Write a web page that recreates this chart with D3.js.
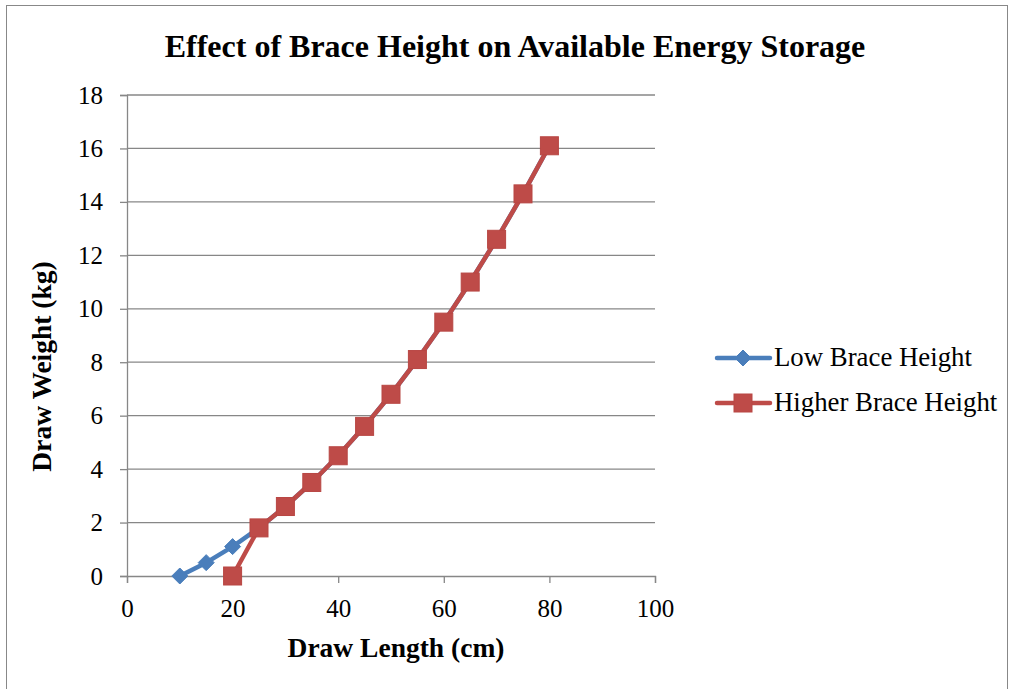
<!DOCTYPE html>
<html><head><meta charset="utf-8">
<script src="https://cdn.jsdelivr.net/npm/d3@7"></script>
<style>body{margin:0;background:#fff}svg{display:block}text{font-family:"Liberation Serif","Times New Roman",serif;fill:#000}</style>
</head><body>
<script>
const title = "Effect of Brace Height on Available Energy Storage";
const xTitle = "Draw Length (cm)";
const yTitle = "Draw Weight (kg)";
const seriesNames = ["Low Brace Height", "Higher Brace Height"];
const lowX = [10, 15, 20, 25, 30, 35, 40, 45, 50, 55, 60, 65, 70, 75, 80];
const lowY = [0, 0.5, 1.1, 1.8, 2.6, 3.5, 4.5, 5.6, 6.8, 8.1, 9.5, 11.0, 12.6, 14.3, 16.1];
const highX = [20, 25, 30, 35, 40, 45, 50, 55, 60, 65, 70, 75, 80];
const highY = [0, 1.8, 2.6, 3.5, 4.5, 5.6, 6.8, 8.1, 9.5, 11.0, 12.6, 14.3, 16.1];
const xTicks = [0, 20, 40, 60, 80, 100];
const yTicks = [0, 2, 4, 6, 8, 10, 12, 14, 16, 18];
const colors = ["#4A7EBB", "#BE4B48"];

const W = 1011, H = 689;
const svg = d3.select("body").append("svg").attr("width", W).attr("height", H);
svg.append("rect").attr("x", 6.5).attr("y", 5.5).attr("width", 1001).attr("height", 700)
  .attr("fill", "#fff").attr("stroke", "#888").attr("stroke-width", 1);

const x = d3.scaleLinear().domain([0, 100]).range([127, 655]);
const y = d3.scaleLinear().domain([0, 18]).range([576, 95]);

// gridlines
svg.append("g").selectAll("line").data(yTicks.filter(d => d > 0)).join("line")
  .attr("x1", x(0)).attr("x2", x(100)).attr("y1", d => y(d)).attr("y2", d => y(d))
  .attr("stroke", "#878787").attr("stroke-width", 1.3);

const yAxis = svg.append("g").attr("transform", `translate(${x(0)},0)`)
  .call(d3.axisLeft(y).tickValues(yTicks).tickSize(7).tickPadding(17).tickFormat(d3.format("d")));
const xAxis = svg.append("g").attr("transform", `translate(0,${y(0)})`)
  .call(d3.axisBottom(x).tickValues(xTicks).tickSize(7).tickPadding(16).tickFormat(d3.format("d")));
[yAxis, xAxis].forEach(a => {
  a.select(".domain").attr("stroke", "#878787").attr("stroke-width", 1.3);
  a.selectAll(".tick line").attr("stroke", "#878787").attr("stroke-width", 1.3);
  a.selectAll("text").attr("font-size", 25).attr("font-family", "Liberation Serif").attr("fill", "#000");
});

const line = d3.line().x(d => x(d[0])).y(d => y(d[1]));
const lowData = lowX.map((v, i) => [v, lowY[i]]);
const highData = highX.map((v, i) => [v, highY[i]]);

function diamond(g, cx, cy, s, c) {
  g.append("path").attr("d", `M${cx},${cy - s}L${cx + s},${cy}L${cx},${cy + s}L${cx - s},${cy}Z`).attr("fill", c).attr("stroke", c).attr("stroke-width", 1);
}
function square(g, cx, cy, s, c) {
  g.append("rect").attr("x", cx - s).attr("y", cy - s).attr("width", 2 * s).attr("height", 2 * s).attr("fill", c).attr("stroke", "#b84643").attr("stroke-width", 1);
}

const g1 = svg.append("g");
g1.append("path").datum(lowData).attr("d", line).attr("fill", "none").attr("stroke", colors[0]).attr("stroke-width", 4.5).attr("stroke-linejoin", "round").attr("stroke-linecap", "round");
lowData.forEach(d => diamond(g1, x(d[0]), y(d[1]), 8, colors[0]));

const g2 = svg.append("g");
g2.append("path").datum(highData).attr("d", line).attr("fill", "none").attr("stroke", colors[1]).attr("stroke-width", 4.5).attr("stroke-linejoin", "round").attr("stroke-linecap", "round");
highData.forEach(d => square(g2, x(d[0]), y(d[1]), 9, colors[1]));

// title
svg.append("text").attr("x", 515).attr("y", 57).attr("text-anchor", "middle")
  .attr("font-size", 32).attr("font-weight", "bold").text(title);
svg.append("text").attr("x", 396).attr("y", 657).attr("text-anchor", "middle")
  .attr("font-size", 27.5).attr("font-weight", "bold").text(xTitle);
svg.append("text").attr("transform", `translate(51,366.5) rotate(-90)`).attr("text-anchor", "middle")
  .attr("font-size", 27.5).attr("font-weight", "bold").text(yTitle);

// legend
const legY = [358, 403];
seriesNames.forEach((n, i) => {
  const lg = svg.append("g");
  lg.append("line").attr("x1", 717).attr("x2", 770).attr("y1", legY[i]).attr("y2", legY[i])
    .attr("stroke", colors[i]).attr("stroke-width", 4.5).attr("stroke-linecap", "round");
  if (i === 0) diamond(lg, 743, legY[i], 8, colors[0]); else square(lg, 743, legY[i], 9, colors[1]);
  lg.append("text").attr("x", 774).attr("y", legY[i] + 8).attr("font-size", 26.8).text(n);
});
</script>
</body></html>
